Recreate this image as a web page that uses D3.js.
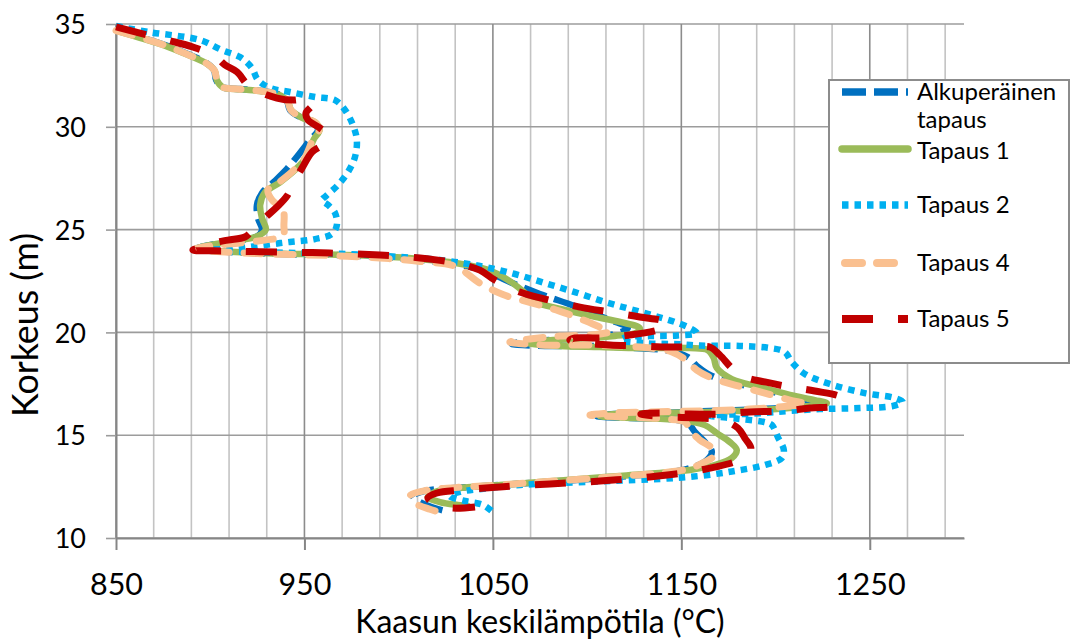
<!DOCTYPE html>
<html><head><meta charset="utf-8">
<script src="https://cdn.jsdelivr.net/npm/d3@7"></script>
<style>body{margin:0;background:#fff}svg{display:block}text{font-family:Lato,"Noto Sans",sans-serif;fill:#000}</style>
</head><body>
<svg id="chart" width="1070" height="640"></svg>
<script>
// ---- data (temperature °C, height m) ----
const xTicks = [850, 950, 1050, 1150, 1250];
const yTicks = [10, 15, 20, 25, 30, 35];
const legendNames = [["Alkuperäinen", "tapaus"], ["Tapaus 1"], ["Tapaus 2"], ["Tapaus 4"], ["Tapaus 5"]];

const alkuperainen = [[850.0,34.71],[862.7,34.37],[876.0,33.98],[889.3,33.49],[897.2,33.15],[902.0,32.76],[903.1,32.28],[906.2,31.94],[915.8,31.84],[927.5,31.74],[937.0,31.55],[940.7,31.26],[942.3,30.82],[947.6,30.48],[955.0,30.23],[957.2,29.84],[952.9,29.36],[949.7,28.97],[945.5,28.48],[940.2,27.90],[933.8,27.32],[927.5,26.78],[924.8,26.20],[925.3,25.57],[927.5,24.98],[925.3,24.69],[915.8,24.49],[902.5,24.30],[892.4,24.06],[910.5,23.91],[937.0,23.81],[963.5,23.77],[990.1,23.67],[1011.3,23.52],[1029.8,23.33],[1045.8,22.99],[1059.0,22.45],[1074.9,21.87],[1093.5,21.28],[1109.4,20.70],[1121.6,20.21],[1114.7,19.92],[1098.8,19.73],[1080.2,19.63],[1064.3,19.53],[1060.1,19.44],[1077.6,19.34],[1101.5,19.34],[1125.3,19.24],[1143.9,19.10],[1153.4,18.80],[1158.2,18.37],[1166.2,17.88],[1178.4,17.54],[1194.3,17.20],[1210.2,16.86],[1222.4,16.61],[1212.9,16.42],[1191.6,16.27],[1165.1,16.18],[1138.6,16.08],[1114.7,16.03],[1105.2,15.93],[1122.7,15.84],[1143.9,15.79],[1153.4,15.59],[1157.2,15.16],[1163.0,14.62],[1166.2,14.18],[1163.0,13.75],[1154.5,13.40],[1141.2,13.16],[1122.7,13.02],[1101.5,12.87],[1077.6,12.72],[1053.7,12.58],[1029.8,12.43],[1013.9,12.29],[1007.6,12.04],[1012.3,11.70],[1020.8,11.41],[1027.2,11.26]];

const tapaus1 = [[851.0,34.65],[862.7,34.33],[876.0,33.95],[889.3,33.45],[897.7,33.10],[902.5,32.70],[903.6,32.25],[906.7,31.92],[916.3,31.82],[928.0,31.72],[937.5,31.52],[941.2,31.22],[943.0,30.80],[948.5,30.45],[956.0,30.20],[958.0,29.84],[955.0,29.40],[953.0,28.95],[950.5,28.45],[945.0,27.90],[937.0,27.30],[929.0,26.80],[926.5,26.20],[927.5,25.55],[929.5,25.00],[925.0,24.68],[915.0,24.48],[902.0,24.28],[892.4,24.06],[910.5,23.92],[937.0,23.83],[963.5,23.79],[990.1,23.70],[1011.3,23.57],[1030.0,23.38],[1047.0,23.05],[1058.0,22.55],[1066.0,22.00],[1072.0,21.50],[1087.0,21.12],[1103.0,20.78],[1118.0,20.50],[1128.0,20.20],[1126.0,19.98],[1114.7,19.83],[1093.5,19.68],[1074.9,19.58],[1068.6,19.48],[1085.5,19.34],[1106.8,19.29],[1128.0,19.24],[1154.5,19.24],[1164.0,19.14],[1167.2,18.75],[1168.8,18.27],[1176.8,17.73],[1191.6,17.34],[1207.6,16.96],[1220.8,16.71],[1227.2,16.56],[1212.9,16.37],[1191.6,16.22],[1165.1,16.13],[1138.6,16.08],[1114.7,16.03],[1106.8,15.93],[1125.3,15.84],[1149.2,15.74],[1162.5,15.49],[1168.8,15.10],[1175.7,14.67],[1179.4,14.28],[1176.8,13.89],[1167.7,13.55],[1154.5,13.31],[1138.6,13.16],[1117.4,13.02],[1096.2,12.87],[1074.9,12.72],[1053.7,12.58],[1032.5,12.43],[1019.2,12.24],[1015.5,11.99],[1021.9,11.75],[1031.4,11.61],[1036.7,11.56]];

const tapaus2 = [[850.0,34.90],[868.0,34.60],[894.6,34.22],[906.2,33.73],[915.8,33.39],[922.1,32.86],[925.3,32.28],[931.7,31.89],[942.3,31.69],[955.6,31.45],[966.2,31.30],[971.5,30.82],[975.7,30.09],[977.8,29.36],[976.8,28.53],[973.1,27.80],[967.8,27.17],[961.4,26.63],[959.3,26.44],[962.5,26.20],[966.2,25.81],[967.2,25.22],[964.6,24.79],[955.6,24.54],[942.3,24.40],[929.0,24.25],[915.8,24.10],[897.0,24.00],[921.0,23.91],[947.6,23.86],[974.1,23.81],[1000.7,23.67],[1021.9,23.52],[1043.1,23.23],[1061.7,22.84],[1077.6,22.40],[1093.5,21.96],[1109.4,21.48],[1122.7,21.14],[1135.9,20.80],[1146.5,20.51],[1154.5,20.21],[1158.2,19.97],[1148.0,19.85],[1133.3,19.82],[1120.0,19.75],[1118.0,19.62],[1130.0,19.48],[1150.0,19.42],[1159.8,19.36],[1181.0,19.34],[1196.9,19.24],[1204.9,19.05],[1208.6,18.56],[1215.5,17.98],[1228.8,17.49],[1247.3,17.05],[1263.3,16.81],[1267.5,16.61],[1262.2,16.42],[1244.7,16.32],[1223.5,16.27],[1207.6,16.18],[1193.8,16.08],[1175.0,16.00],[1165.0,15.95],[1180.0,15.80],[1195.0,15.62],[1198.0,15.50],[1201.2,14.91],[1204.4,14.28],[1203.3,13.89],[1194.3,13.55],[1178.4,13.26],[1159.8,13.02],[1138.6,12.87],[1112.1,12.77],[1085.5,12.67],[1064.3,12.58],[1048.4,12.43],[1032.5,12.24],[1027.2,12.04],[1035.1,11.80],[1044.7,11.61],[1050.0,11.26]];

const tapaus4 = [[850.0,34.68],[862.7,34.35],[876.0,33.96],[889.3,33.47],[897.5,33.12],[902.3,32.73],[903.5,32.27],[906.5,31.93],[916.0,31.83],[927.8,31.73],[937.3,31.53],[941.0,31.24],[942.8,30.81],[948.0,30.47],[955.5,30.22],[957.8,29.84],[954.5,29.40],[952.5,28.95],[950.0,28.45],[944.5,27.90],[936.5,27.30],[930.6,26.93],[932.8,26.44],[938.6,25.96],[939.1,25.22],[938.6,24.69],[929.0,24.49],[915.8,24.35],[899.9,24.20],[892.0,24.05],[910.5,23.90],[937.0,23.80],[963.5,23.74],[990.1,23.62],[1011.3,23.45],[1030.0,23.22],[1043.0,22.40],[1055.0,21.85],[1070.0,21.45],[1085.0,21.05],[1098.0,20.60],[1107.0,20.25],[1112.0,20.05],[1106.8,19.92],[1085.5,19.82],[1069.6,19.68],[1059.0,19.53],[1075.0,19.39],[1096.2,19.39],[1117.4,19.34],[1133.3,19.24],[1145.0,19.05],[1152.4,18.66],[1158.2,18.17],[1166.2,17.78],[1178.4,17.44],[1194.3,17.05],[1207.6,16.71],[1216.0,16.52],[1207.6,16.42],[1186.3,16.27],[1159.8,16.18],[1133.3,16.13],[1112.1,16.08],[1101.5,15.98],[1120.0,15.89],[1141.2,15.79],[1151.9,15.64],[1154.5,15.25],[1159.8,14.77],[1166.2,14.38],[1167.7,14.04],[1162.5,13.70],[1153.4,13.36],[1138.6,13.16],[1117.0,13.00],[1096.0,12.86],[1075.0,12.72],[1053.7,12.58],[1030.0,12.45],[1015.0,12.32],[1006.0,12.05],[1008.6,11.70],[1016.6,11.40],[1020.8,11.28]];

const tapaus5 = [[850.0,34.86],[862.7,34.56],[877.1,34.22],[890.8,33.88],[902.5,33.44],[907.8,33.01],[914.2,32.67],[921.0,31.95],[935.4,31.40],[945.0,31.30],[951.9,31.40],[954.5,31.11],[950.8,30.67],[951.9,30.33],[958.2,29.94],[962.5,29.55],[959.3,29.11],[954.0,28.77],[948.7,27.99],[944.4,27.32],[940.7,26.63],[935.4,26.10],[929.0,25.57],[922.7,24.98],[918.4,24.64],[909.4,24.49],[901.5,24.35],[893.5,24.10],[890.8,24.01],[908.9,23.96],[937.0,23.91],[963.5,23.86],[990.1,23.76],[1011.3,23.62],[1029.8,23.38],[1043.1,23.03],[1051.0,22.55],[1064.3,21.96],[1077.6,21.62],[1096.2,21.23],[1112.1,20.99],[1128.0,20.75],[1141.2,20.51],[1142.3,20.26],[1135.9,20.07],[1122.7,19.87],[1106.8,19.73],[1093.5,19.73],[1090.8,19.63],[1098.8,19.48],[1112.1,19.39],[1128.0,19.34],[1143.9,19.29],[1157.2,19.29],[1165.1,19.29],[1170.4,18.90],[1177.3,18.22],[1183.7,17.83],[1194.3,17.59],[1207.6,17.34],[1220.8,17.15],[1235.1,16.81],[1233.0,16.47],[1218.2,16.32],[1203.8,16.18],[1186.3,16.13],[1170.4,16.03],[1154.5,16.03],[1138.6,16.08],[1128.5,16.03],[1141.2,15.89],[1159.8,15.84],[1173.0,15.69],[1180.0,15.35],[1183.7,14.86],[1186.9,14.38],[1185.3,13.99],[1178.4,13.70],[1167.7,13.45],[1154.5,13.21],[1133.3,12.97],[1106.8,12.77],[1080.2,12.63],[1053.7,12.48],[1032.5,12.33],[1020.3,12.19],[1015.5,11.95],[1019.2,11.65],[1028.2,11.46],[1040.5,11.51]];

// ---- layout ----
const svg = d3.select("#chart");
const x = d3.scaleLinear().domain([850, 1300]).range([116, 964]);
const y = d3.scaleLinear().domain([10, 35]).range([538, 24]);
const xMinor = d3.range(870, 1300, 20).filter(v => !xTicks.includes(v));

const grid = svg.append("g");
grid.selectAll(".minor").data(xMinor).join("line")
  .attr("x1", d => x(d)).attr("x2", d => x(d)).attr("y1", y(35)).attr("y2", y(10))
  .attr("stroke", "#c3c3c3").attr("stroke-width", 1.6);
grid.selectAll(".hz").data(yTicks).join("line")
  .attr("x1", x(850)).attr("x2", x(1300)).attr("y1", d => y(d)).attr("y2", d => y(d))
  .attr("stroke", "#9c9c9c").attr("stroke-width", 1.6);
grid.selectAll(".major").data(xTicks).join("line")
  .attr("x1", d => x(d)).attr("x2", d => x(d)).attr("y1", y(35)).attr("y2", y(10))
  .attr("stroke", "#8c8c8c").attr("stroke-width", 1.6);

// axes
const xAxis = svg.append("g").attr("transform", `translate(0,${y(10)})`)
  .call(d3.axisBottom(x).tickValues(xTicks).tickSize(12).tickSizeOuter(0).tickFormat(d3.format("d")));
xAxis.select(".domain").attr("stroke", "#868686").attr("stroke-width", 2);
xAxis.selectAll(".tick line").attr("stroke", "#868686").attr("stroke-width", 2);
xAxis.selectAll(".tick text").attr("y", 57).attr("dy", 0).style("font-size", "30.5px").style("font-family", "Lato");

const yAxis = svg.append("g").attr("transform", `translate(${x(850)},0)`)
  .call(d3.axisLeft(y).tickValues(yTicks).tickSize(10).tickSizeOuter(0).tickPadding(20));
yAxis.select(".domain").attr("stroke", "#868686").attr("stroke-width", 2);
yAxis.selectAll(".tick line").attr("stroke", "#9c9c9c").attr("stroke-width", 1.6);
yAxis.selectAll(".tick text").attr("dy", "0.36em").style("font-size", "27px").style("font-family", "Lato");

function fit(sel, w, cap) {
  const len = sel.node().getComputedTextLength();
  const fs = parseFloat(sel.style("font-size"));
  const nf = Math.min(cap, fs * w / len);
  sel.style("font-size", nf + "px");
  return nf;
}
const xt = svg.append("text").attr("x", 540).attr("y", 633).attr("text-anchor", "middle")
  .style("font-size", "28px").text("Kaasun keskilämpötila (°C)");
fit(xt, 392, 32);
const yt = svg.append("text").attr("transform", "translate(38,325) rotate(-90)").attr("text-anchor", "middle")
  .style("font-size", "30px").text("Korkeus (m)");
fit(yt, 184, 36);

// series
const series = [
  {data: alkuperainen, color: "#0070C0", width: 6.5, dash: "24,8", cap: "butt"},
  {data: tapaus1, color: "#9BBB59", width: 6.5, dash: null, cap: "round"},
  {data: tapaus2, color: "#00B0F0", width: 6.5, dash: "6.5,6", cap: "butt"},
  {data: tapaus4, color: "#FAC090", width: 7, dash: "17,15", cap: "round"},
  {data: tapaus5, color: "#C00000", width: 7, dash: "31,25", cap: "butt"}
];
const line = d3.line().x(d => x(d[0])).y(d => y(d[1])).curve(d3.curveCatmullRom.alpha(0.5));
svg.append("g").selectAll("path").data(series).join("path")
  .attr("d", s => line(s.data)).attr("fill", "none")
  .attr("stroke", s => s.color).attr("stroke-width", s => s.width)
  .attr("stroke-dasharray", s => s.dash).attr("stroke-linecap", s => s.cap)
  .attr("stroke-linejoin", "round");

// legend
const lg = svg.append("g");
lg.append("rect").attr("x", 829).attr("y", 80).attr("width", 240).attr("height", 283)
  .attr("fill", "#fff").attr("stroke", "#8c8c8c").attr("stroke-width", 2);
const rowY = [92, 149, 205, 263, 319];
const items = lg.selectAll(".item").data(series).join("g");
items.append("line").attr("x1", s => s.cap === "round" && s.dash ? 845 : 842).attr("x2", s => s.cap === "round" && s.dash ? 905 : 908)
  .attr("y1", (s, i) => rowY[i]).attr("y2", (s, i) => rowY[i])
  .attr("stroke", s => s.color).attr("stroke-width", s => s.width + 1)
  .attr("stroke-dasharray", s => s.dash).attr("stroke-linecap", s => s.cap);
const lt = items.append("text").attr("x", 917).attr("y", (s, i) => rowY[i] + (i === 1 ? 10 : 8)).style("font-size", "24px");
lt.selectAll("tspan").data((s, i) => legendNames[i]).join("tspan")
  .attr("x", 917).attr("dy", (d, j) => j === 0 ? 0 : 28).text(d => d);
const lfs = (function () {
  const t = lt.filter((d, i) => i === 0).select("tspan");
  return Math.min(24, 24 * 143 / t.node().getComputedTextLength());
})();
lt.style("font-size", lfs + "px");
</script>
</body></html>
